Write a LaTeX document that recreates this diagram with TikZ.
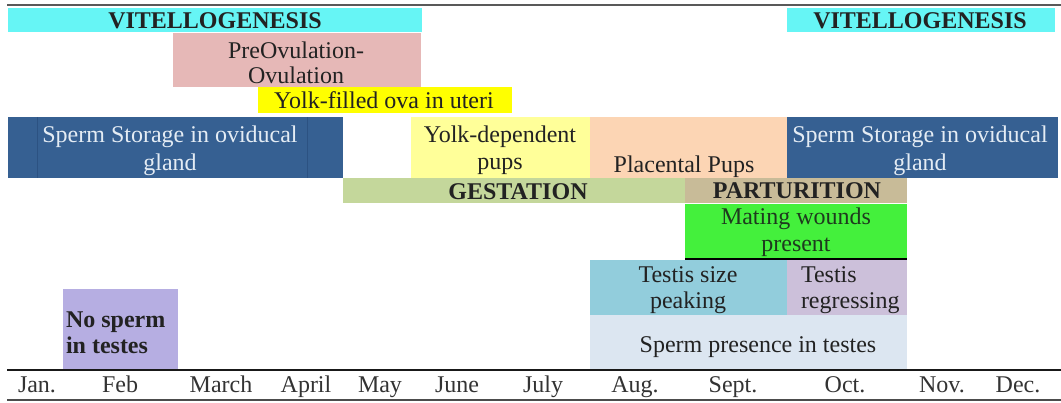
\documentclass[tikz,border=0pt]{standalone}
\usepackage{fontspec}
\setmainfont{LiberationSerif}[Extension=.ttf, UprightFont=*-Regular, BoldFont=*-Bold, ItalicFont=*-Italic, BoldItalicFont=*-BoldItalic]
\definecolor{cvit}{HTML}{66F5F5}
\definecolor{cpre}{HTML}{E6B8B7}
\definecolor{cyolk}{HTML}{FFFF00}
\definecolor{cblue}{HTML}{366092}
\definecolor{cblueline}{HTML}{2C5282}
\definecolor{cbluetext}{HTML}{E4ECF4}
\definecolor{cyolkdep}{HTML}{FFFF99}
\definecolor{cplac}{HTML}{FCD5B4}
\definecolor{cgest}{HTML}{C4D79B}
\definecolor{cpart}{HTML}{C8BB98}
\definecolor{cmate}{HTML}{44F03C}
\definecolor{cmatetext}{HTML}{1E3A1E}
\definecolor{cpeak}{HTML}{92CDDC}
\definecolor{creg}{HTML}{CCC0DA}
\definecolor{cpres}{HTML}{DCE6F1}
\definecolor{cnosp}{HTML}{B6AEE2}
\definecolor{ctext}{HTML}{222222}
\tikzset{
  cell/.style={inner sep=0pt, outer sep=0pt, draw=none, anchor=north west},
  lab/.style={inner sep=0pt, outer sep=0pt, align=center, text=ctext,
    font=\fontsize{24}{27}\selectfont},
  blab/.style={lab, font=\fontsize{24}{27}\selectfont\bfseries},
  month/.style={lab, anchor=base, text=black!80},
  rule/.style={line width=2pt, draw=black!75},
}
\begin{document}
\begin{tikzpicture}[x=1pt,y=-1pt]
\useasboundingbox (0,0) rectangle (1061,402);
% cells
\node[cell, fill=cvit, minimum width=414pt, minimum height=24pt] (vitA) at (8,8) {};
\node[cell, fill=cvit, minimum width=268pt, minimum height=24pt] (vitB) at (787,8) {};
\node[cell, fill=cpre, minimum width=248pt, minimum height=54pt] (preov) at (173,33) {};
\node[cell, fill=cyolk, minimum width=254pt, minimum height=26pt] (yfill) at (258,87) {};
\node[cell, fill=cblue, minimum width=335pt, minimum height=61pt] (ssA) at (8,117) {};
\node[cell, fill=cblue, minimum width=271pt, minimum height=61pt] (ssB) at (787,117) {};
\node[cell, fill=cyolkdep, minimum width=179pt, minimum height=61pt] (ydep) at (411,117) {};
\node[cell, fill=cplac, minimum width=197pt, minimum height=61pt] (plac) at (590,117) {};
\node[cell, fill=cgest, minimum width=342pt, minimum height=25pt] (gest) at (343,178) {};
\node[cell, fill=cpart, minimum width=222pt, minimum height=25pt] (part) at (685,178) {};
\node[cell, fill=cmate, minimum width=222pt, minimum height=55pt] (mate) at (685,204) {};
\node[cell, fill=cpeak, minimum width=197pt, minimum height=55pt] (peak) at (590,260) {};
\node[cell, fill=creg, minimum width=120pt, minimum height=55pt] (regr) at (787,260) {};
\node[cell, fill=cpres, minimum width=317pt, minimum height=54pt] (pres) at (590,315) {};
\node[cell, fill=cnosp, minimum width=115pt, minimum height=80pt] (nosp) at (63,289) {};
% faint inner cell borders
\draw[cblueline, line width=0.8pt] (37,117) -- (37,178) (307,117) -- (307,178);
\draw[black, line width=1.6pt] (mate.south west) -- (mate.south east);
% rules
\draw[rule, draw=black!65] (7,5) -- (1061,5);
\draw[rule, draw=black!90, line width=1.8pt] (7,370) -- (1061,370);
\draw[rule, draw=black!70] (7,400) -- (1061,400);
% labels
\node[blab, anchor=base] (tvitA) at (215,28.5) {VITELLOGENESIS};
\node[blab, anchor=base] (tvitB) at (920,28.5) {VITELLOGENESIS};
\node[lab, font=\fontsize{24}{23}\selectfont] (tpre) at (296,66) {\strut PreOvulation-\\\strut Ovulation};
\node[lab, anchor=base] (tyfill) at (384,108.5) {Yolk-filled ova in uteri};
\node[lab, text=cbluetext, font=\fontsize{24}{28}\selectfont] (tssA) at (170,150.4) {\strut Sperm Storage in oviducal\\\strut gland};
\node[lab, text=cbluetext, font=\fontsize{24}{28}\selectfont] (tssB) at (920,150.4) {\strut Sperm Storage in oviducal\\\strut gland};
\node[lab] (tydep) at (500,151) {\strut Yolk-dependent\\\strut pups};
\node[lab, anchor=base] (tplac) at (684,172) {Placental Pups};
\node[blab, anchor=base] (tgest) at (518,199) {GESTATION};
\node[blab, anchor=base] (tpart) at (797,198) {PARTURITION};
\node[lab, text=cmatetext] (tmate) at (796,233) {\strut Mating wounds\\\strut present};
\node[lab, font=\fontsize{24}{26}\selectfont] (tpeak) at (688,290) {\strut Testis size\\\strut peaking};
\node[lab, align=left, anchor=west, font=\fontsize{24}{26}\selectfont] (treg) at (801,290) {\strut Testis\\\strut regressing};
\node[lab, anchor=base] (tpres) at (758,352) {Sperm presence in testes};
\node[blab, align=left, anchor=west, font=\fontsize{24}{26}\selectfont\bfseries] (tnosp) at (66,335) {\strut No sperm\\\strut in testes};
% months
\node[month] (mJan) at (37,392) {Jan.};
\node[month] (mFeb) at (120,392) {Feb};
\node[month] (mMar) at (221,392) {March};
\node[month] (mApr) at (306,392) {April};
\node[month] (mMay) at (380,392) {May};
\node[month] (mJun) at (457,392) {June};
\node[month] (mJul) at (543,392) {July};
\node[month] (mAug) at (635,392) {Aug.};
\node[month] (mSep) at (733,392) {Sept.};
\node[month] (mOct) at (845,392) {Oct.};
\node[month] (mNov) at (942,392) {Nov.};
\node[month] (mDec) at (1018,392) {Dec.};
\end{tikzpicture}
\end{document}
